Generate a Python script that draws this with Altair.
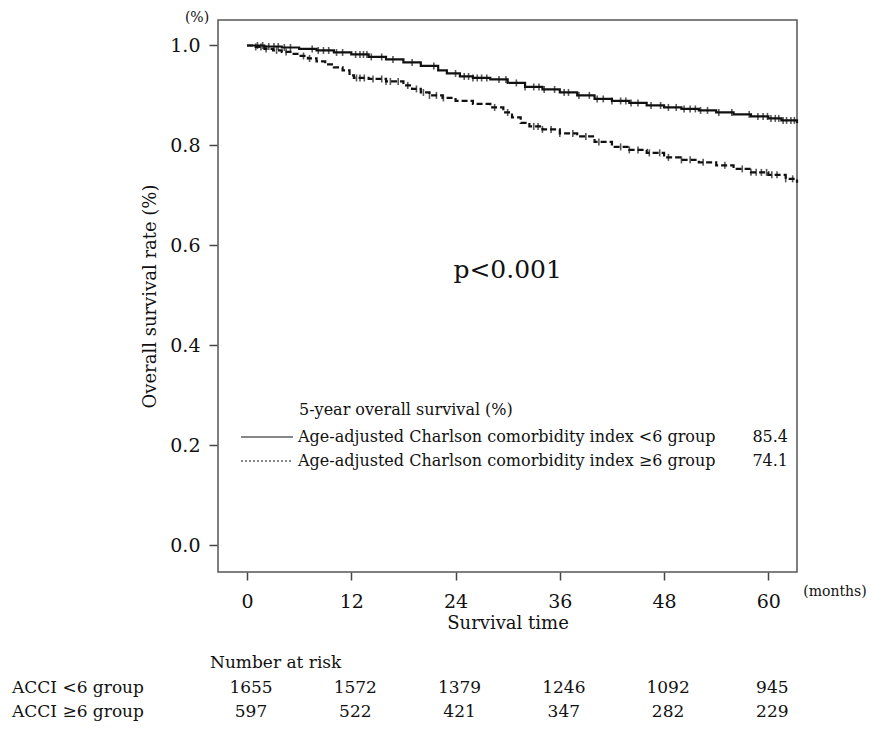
import altair as alt
import pandas as pd

FONT = "DejaVu Serif"

# ---- Kaplan-Meier step data ----
low_times = [0, 2, 4, 6, 8, 10, 12, 14, 16, 18, 20, 22, 23, 24.5, 26, 28, 30, 32, 34, 36,
             38, 40, 42, 44, 46, 48, 50, 52, 54, 56, 58, 60, 61.5, 63.3]
low_surv = [1.0, 0.998, 0.996, 0.993, 0.990, 0.986, 0.982, 0.977, 0.972, 0.966, 0.959, 0.950,
            0.944, 0.938, 0.935, 0.932, 0.925, 0.917, 0.912, 0.906, 0.900, 0.893, 0.889, 0.885,
            0.880, 0.876, 0.873, 0.870, 0.866, 0.862, 0.858, 0.854, 0.850, 0.845]

high_times = [0, 1, 2, 3, 4, 5, 6, 7, 8, 9, 10, 11, 11.8, 12.3, 14, 16, 18, 19, 20, 21, 22.5,
              24, 26, 28, 29.5, 30.5, 31.5, 32.5, 34, 36, 38, 40, 42, 44, 46, 48, 50, 52, 54,
              56, 58, 60, 62, 63.3]
high_surv = [1.0, 0.997, 0.993, 0.990, 0.987, 0.983, 0.979, 0.974, 0.968, 0.962, 0.956, 0.950,
             0.940, 0.935, 0.933, 0.928, 0.920, 0.913, 0.906, 0.900, 0.895, 0.889, 0.883, 0.876,
             0.866, 0.856, 0.845, 0.838, 0.832, 0.824, 0.818, 0.807, 0.797, 0.791, 0.785, 0.776,
             0.771, 0.766, 0.760, 0.753, 0.746, 0.741, 0.733, 0.725]

# censoring marks (months)
low_censor = [1.2, 1.8, 2.5, 3.1, 3.6, 4.3, 5.0, 7.5, 8.2, 8.8, 9.4, 10.3, 11.0, 12.5, 13.0,
              13.4, 13.8, 14.3, 15.5, 16.8, 19.0, 21.5, 24.0, 25.0, 25.5, 26.0, 26.5, 27.0,
              27.6, 29.0, 29.8, 31.0, 32.0, 33.0, 33.6, 34.2, 35.4, 36.5, 37.0, 38.2, 39.4,
              40.3, 41.0, 42.0, 43.0, 43.6, 44.2, 45.0, 46.5, 47.6, 48.5, 49.4, 50.3, 51.0,
              51.6, 52.2, 53.0, 54.3, 55.8, 57.8, 58.8, 59.4, 59.9, 60.3, 60.8, 61.2, 61.7,
              62.1, 62.6, 63.0]
high_censor = [1.0, 1.6, 2.2, 3.4, 4.5, 6.5, 7.2, 12.6, 13.0, 13.5, 14.5, 15.5, 16.0, 16.5,
               17.4, 18.5, 19.5, 20.3, 21.0, 21.8, 22.6, 28.5, 30.0, 33.0, 33.5, 34.0, 35.0,
               36.0, 37.5, 39.0, 40.5, 43.0, 44.0, 45.0, 46.3, 47.5, 48.5, 50.0, 51.0, 52.5,
               55.0, 57.0, 58.0, 58.6, 59.2, 59.8, 60.4, 61.0, 62.0, 62.8]

groups = ["ACCI <6", "ACCI ≥6"]

# number at risk
risk_times = [0, 12, 24, 36, 48, 60]
risk_low = [1655, 1572, 1379, 1246, 1092, 945]
risk_high = [597, 522, 421, 347, 282, 229]

x_ticks = [0, 12, 24, 36, 48, 60]
y_ticks = [0.0, 0.2, 0.4, 0.6, 0.8, 1.0]

# ---- tables ----
lines = pd.concat([
    pd.DataFrame({"time": low_times, "surv": low_surv, "group": groups[0]}),
    pd.DataFrame({"time": high_times, "surv": high_surv, "group": groups[1]}),
])


def censor_df(ctimes, st, ss, g):
    c = pd.DataFrame({"time": ctimes}).sort_values("time")
    s = pd.DataFrame({"time": st, "surv": ss}).sort_values("time")
    m = pd.merge_asof(c, s, on="time")
    m["group"] = g
    return m


censors = pd.concat([
    censor_df(low_censor, low_times, low_surv, groups[0]),
    censor_df(high_censor, high_times, high_surv, groups[1]),
])

W, H = 579, 552
xscale = alt.Scale(domain=[-3.34, 63.3], nice=False, zero=False)
yscale = alt.Scale(domain=[-0.054, 1.051], nice=False, zero=False)

x_enc = alt.X("time:Q", scale=xscale,
              axis=alt.Axis(values=x_ticks, title="Survival time", domain=False,
                            tickSize=8, labelPadding=12, titlePadding=3,
                            labelFontSize=19, titleFontSize=18))
y_enc = alt.Y("surv:Q", scale=yscale,
              axis=alt.Axis(values=y_ticks, format=".1f", title="Overall survival rate (%)",
                            domain=False, tickSize=8, offset=1, labelPadding=9,
                            titlePadding=10, labelFontSize=19, titleFontSize=18))

dash_scale = alt.Scale(domain=groups, range=[[1, 0], [6, 3]])

curve = alt.Chart(lines).mark_line(interpolate="step-after", color="#111", strokeWidth=2.2).encode(
    x=x_enc, y=y_enc,
    strokeDash=alt.StrokeDash("group:N", scale=dash_scale, legend=None),
    detail="group:N",
)

ticks = alt.Chart(censors).mark_tick(orient="vertical", color="#111", size=7, thickness=1.6).encode(
    x=alt.X("time:Q", scale=xscale), y=alt.Y("surv:Q", scale=yscale)
)

pval = alt.Chart(pd.DataFrame({"t": [30.0], "s": [0.55], "label": ["p<0.001"]})).mark_text(
    font=FONT, fontSize=25, color="#111", baseline="middle", align="center"
).encode(x=alt.X("t:Q", scale=xscale), y=alt.Y("s:Q", scale=yscale), text="label:N")

# legend block
legend_header = alt.Chart(pd.DataFrame({"label": ["5-year overall survival (%)"]})).mark_text(
    font=FONT, fontSize=16, color="#111", align="left", baseline="middle"
).encode(x=alt.value(81), y=alt.value(390), text="label:N")

leg_rows = pd.DataFrame({
    "label": ["Age-adjusted Charlson comorbidity index <6 group",
              "Age-adjusted Charlson comorbidity index ≥6 group"],
    "value": ["85.4", "74.1"],
    "ypix": [417, 441],
})
leg_text = alt.Chart(leg_rows).mark_text(
    font=FONT, fontSize=16, color="#111", align="left", baseline="middle"
).encode(x=alt.value(80), y=alt.Y("ypix:Q", scale=None), text="label:N")
leg_val = alt.Chart(leg_rows).mark_text(
    font=FONT, fontSize=16, color="#111", align="right", baseline="middle"
).encode(x=alt.value(570), y=alt.Y("ypix:Q", scale=None), text="value:N")
leg_line1 = alt.Chart(pd.DataFrame({"a": [0]})).mark_rule(color="#111", strokeWidth=1).encode(
    x=alt.value(23), x2=alt.value(75), y=alt.value(417))
leg_line2 = alt.Chart(pd.DataFrame({"a": [0]})).mark_rule(color="#111", strokeWidth=1,
                                                            strokeDash=[2, 2]).encode(
    x=alt.value(23), x2=alt.value(75), y=alt.value(441))

# units
pct = alt.Chart(pd.DataFrame({"label": ["(%)"]})).mark_text(
    font=FONT, fontSize=14, color="#111", align="center", baseline="middle"
).encode(x=alt.value(-21), y=alt.value(-2), text="label:N")
months = alt.Chart(pd.DataFrame({"label": ["(months)"]})).mark_text(
    font=FONT, fontSize=14, color="#111", align="center", baseline="middle"
).encode(x=alt.value(617), y=alt.value(572), text="label:N")

# number at risk table
risk = pd.concat([
    pd.DataFrame({"time": risk_times, "n": risk_low, "ypix": 668}),
    pd.DataFrame({"time": risk_times, "n": risk_high, "ypix": 692}),
])
risk_txt = alt.Chart(risk).mark_text(
    font=FONT, fontSize=17, color="#111", align="center", baseline="middle", dx=4
).encode(x=alt.X("time:Q", scale=xscale), y=alt.Y("ypix:Q", scale=None), text="n:Q")

row_labels = pd.DataFrame({
    "label": ["Number at risk", "ACCI <6 group", "ACCI ≥6 group"],
    "xpix": [-8, -206, -206],
    "ypix": [643, 668, 692],
})
row_txt = alt.Chart(row_labels).mark_text(
    font=FONT, fontSize=17, color="#111", align="left", baseline="middle"
).encode(x=alt.X("xpix:Q", scale=None), y=alt.Y("ypix:Q", scale=None), text="label:N")

chart = alt.layer(
    curve, ticks, pval, legend_header, leg_text, leg_val, leg_line1, leg_line2,
    pct, months, risk_txt, row_txt
).properties(
    width=W, height=H,
    padding={"left": 210, "top": 12, "right": 75, "bottom": 153},
    autosize=alt.AutoSizeParams(type="none"),
).configure_view(
    stroke="#555", strokeWidth=1.5
).configure_axis(
    labelFont=FONT, titleFont=FONT, labelColor="#111", titleColor="#111",
    tickColor="#444", tickWidth=1.5, grid=False, titleFontWeight="normal"
)

chart.save("out.html", embed_options={"renderer": "svg", "actions": False})
